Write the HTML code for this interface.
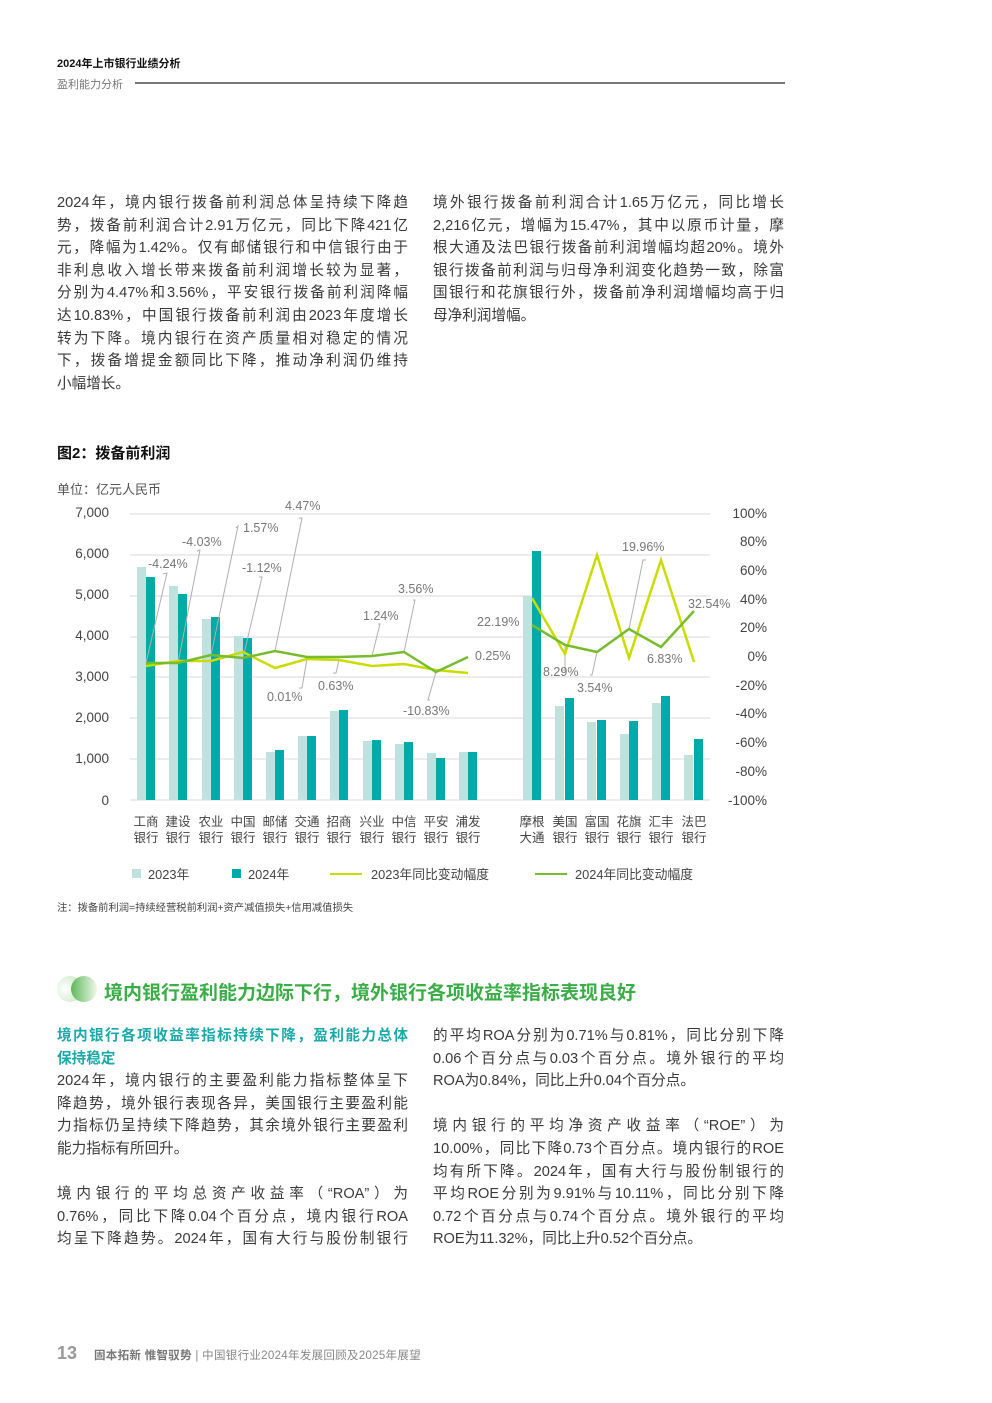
<!DOCTYPE html>
<html><head><meta charset="utf-8">
<style>
*{margin:0;padding:0}
body{width:992px;height:1403px;position:relative;background:#fff;font-family:"Liberation Sans","Noto Sans CJK SC",sans-serif;color:#3a3a3a;overflow:hidden}
.a{position:absolute;white-space:nowrap}
.col{position:absolute;width:351px;font-size:14.6px;}
.col div{height:22.6px;line-height:22.6px;text-align:justify;text-align-last:justify;white-space:nowrap}
.col div.l{text-align-last:left}
.col div.sp{height:22.6px}
</style></head><body>
<div class="a" style="left:57px;top:55px;font-size:11px;font-weight:bold;color:#111">2024年上市银行业绩分析</div>
<div class="a" style="left:57px;top:76px;font-size:11px;color:#777">盈利能力分析</div>
<div class="a" style="left:135px;top:82px;width:650px;height:1.5px;background:#777"></div>

<div class="col" style="left:57px;top:192px">
<div>2024年，境内银行拨备前利润总体呈持续下降趋</div>
<div>势，拨备前利润合计2.91万亿元，同比下降421亿</div>
<div>元，降幅为1.42%。仅有邮储银行和中信银行由于</div>
<div>非利息收入增长带来拨备前利润增长较为显著，</div>
<div>分别为4.47%和3.56%，平安银行拨备前利润降幅</div>
<div>达10.83%，中国银行拨备前利润由2023年度增长</div>
<div>转为下降。境内银行在资产质量相对稳定的情况</div>
<div>下，拨备增提金额同比下降，推动净利润仍维持</div>
<div class="l">小幅增长。</div>
</div>
<div class="col" style="left:433px;top:192px">
<div>境外银行拨备前利润合计1.65万亿元，同比增长</div>
<div>2,216亿元，增幅为15.47%，其中以原币计量，摩</div>
<div>根大通及法巴银行拨备前利润增幅均超20%。境外</div>
<div>银行拨备前利润与归母净利润变化趋势一致，除富</div>
<div>国银行和花旗银行外，拨备前净利润增幅均高于归</div>
<div class="l">母净利润增幅。</div>
</div>

<div class="a" style="left:57px;top:442px;font-size:15px;font-weight:bold;color:#111">图2：拨备前利润</div>
<div class="a" style="left:57px;top:479px;font-size:13px;color:#555">单位：亿元人民币</div>

<svg class="a" style="left:0;top:0" width="992" height="1403" font-family="Liberation Sans, Noto Sans CJK SC, sans-serif">
<g stroke="#d9d9d9" stroke-width="1">
<line x1="130" y1="514" x2="710" y2="514"/><line x1="130" y1="555" x2="710" y2="555"/>
<line x1="130" y1="596" x2="710" y2="596"/><line x1="130" y1="637" x2="710" y2="637"/>
<line x1="130" y1="677" x2="710" y2="677"/><line x1="130" y1="718" x2="710" y2="718"/>
<line x1="130" y1="759" x2="710" y2="759"/><line x1="130" y1="800" x2="710" y2="800"/>
</g>
<g font-size="13.5" fill="#444" text-anchor="end">
<text x="109" y="517">7,000</text><text x="109" y="558">6,000</text><text x="109" y="599">5,000</text>
<text x="109" y="640">4,000</text><text x="109" y="681">3,000</text><text x="109" y="722">2,000</text>
<text x="109" y="763">1,000</text><text x="109" y="805">0</text>
</g>
<g font-size="13.5" fill="#444" text-anchor="end">
<text x="767" y="518">100%</text><text x="767" y="546">80%</text><text x="767" y="575">60%</text>
<text x="767" y="604">40%</text><text x="767" y="632">20%</text><text x="767" y="661">0%</text>
<text x="767" y="690">-20%</text><text x="767" y="718">-40%</text><text x="767" y="747">-60%</text>
<text x="767" y="776">-80%</text><text x="767" y="805">-100%</text>
</g>
<g fill="#bfe2df">
<rect x="137" y="567" width="9" height="233"/><rect x="169" y="586" width="9" height="214"/>
<rect x="202" y="619" width="9" height="181"/><rect x="234" y="636" width="9" height="164"/>
<rect x="266" y="752" width="9" height="48"/><rect x="298" y="736" width="9" height="64"/>
<rect x="330" y="711" width="9" height="89"/><rect x="363" y="741" width="9" height="59"/>
<rect x="395" y="744" width="9" height="56"/><rect x="427" y="753" width="9" height="47"/>
<rect x="459" y="752" width="9" height="48"/>
<rect x="523" y="596" width="9" height="204"/><rect x="555" y="706" width="9" height="94"/>
<rect x="587" y="722" width="9" height="78"/><rect x="620" y="734" width="9" height="66"/>
<rect x="652" y="703" width="9" height="97"/><rect x="684" y="755" width="9" height="45"/>
</g>
<g fill="#00aaa7">
<rect x="146" y="577" width="9" height="223"/><rect x="178" y="594" width="9" height="206"/>
<rect x="211" y="617" width="9" height="183"/><rect x="243" y="638" width="9" height="162"/>
<rect x="275" y="750" width="9" height="50"/><rect x="307" y="736" width="9" height="64"/>
<rect x="339" y="710" width="9" height="90"/><rect x="372" y="740" width="9" height="60"/>
<rect x="404" y="742" width="9" height="58"/><rect x="436" y="758" width="9" height="42"/>
<rect x="468" y="752" width="9" height="48"/>
<rect x="532" y="551" width="9" height="249"/><rect x="565" y="698" width="9" height="102"/>
<rect x="597" y="720" width="9" height="80"/><rect x="629" y="721" width="9" height="79"/>
<rect x="661" y="696" width="9" height="104"/><rect x="694" y="739" width="9" height="61"/>
</g>
<g stroke="#b0b0b0" stroke-width="1" fill="none">
<polyline points="163,574 167,573 146,663"/><polyline points="197,551 200,550 178,663"/>
<polyline points="236,528 238,526 211,655"/><polyline points="259,577 262,577 243,658"/>
<polyline points="299,518 302,518 275,651"/><polyline points="299,688 302,688 307,659"/>
<polyline points="333,673 336,673 339,660"/><polyline points="378,624 380,624 372,656"/>
<polyline points="413,600 415,600 404,652"/><polyline points="430,700 428,700 436,672"/>
<polyline points="562,670 565,670 565,645"/><polyline points="590,675 592,675 597,652"/>
<polyline points="646,560 643,560 629,629"/>
</g>
<polyline fill="none" stroke="#c9dc00" stroke-width="2.5" points="146,666 178,661 211,661 243,652 275,668 307,659 339,660 372,666 404,664 436,670 468,673"/>
<polyline fill="none" stroke="#77bb2f" stroke-width="2.5" points="146,663 178,663 211,655 243,658 275,651 307,657 339,657 372,656 404,652 436,672 468,657"/>
<polyline fill="none" stroke="#c9dc00" stroke-width="2.5" points="532,598 565,654 597,555 629,658 661,560 694,662"/>
<polyline fill="none" stroke="#77bb2f" stroke-width="2.5" points="532,625 565,645 597,652 629,629 661,647 694,611"/>
<g font-size="12.5" fill="#777">
<text x="148" y="568">-4.24%</text><text x="182" y="546">-4.03%</text><text x="243" y="532">1.57%</text>
<text x="242" y="572">-1.12%</text><text x="285" y="510">4.47%</text><text x="267" y="701">0.01%</text>
<text x="318" y="690">0.63%</text><text x="363" y="620">1.24%</text><text x="398" y="593">3.56%</text>
<text x="403" y="715">-10.83%</text><text x="475" y="660">0.25%</text><text x="477" y="626">22.19%</text>
<text x="543" y="676">8.29%</text><text x="577" y="692">3.54%</text><text x="622" y="551">19.96%</text>
<text x="647" y="663">6.83%</text><text x="688" y="608">32.54%</text>
</g>
<g font-size="12.5" fill="#444" text-anchor="middle">
<text x="146" y="826">工商</text><text x="146" y="842">银行</text>
<text x="178" y="826">建设</text><text x="178" y="842">银行</text>
<text x="211" y="826">农业</text><text x="211" y="842">银行</text>
<text x="243" y="826">中国</text><text x="243" y="842">银行</text>
<text x="275" y="826">邮储</text><text x="275" y="842">银行</text>
<text x="307" y="826">交通</text><text x="307" y="842">银行</text>
<text x="339" y="826">招商</text><text x="339" y="842">银行</text>
<text x="372" y="826">兴业</text><text x="372" y="842">银行</text>
<text x="404" y="826">中信</text><text x="404" y="842">银行</text>
<text x="436" y="826">平安</text><text x="436" y="842">银行</text>
<text x="468" y="826">浦发</text><text x="468" y="842">银行</text>
<text x="532" y="826">摩根</text><text x="532" y="842">大通</text>
<text x="565" y="826">美国</text><text x="565" y="842">银行</text>
<text x="597" y="826">富国</text><text x="597" y="842">银行</text>
<text x="629" y="826">花旗</text><text x="629" y="842">银行</text>
<text x="661" y="826">汇丰</text><text x="661" y="842">银行</text>
<text x="694" y="826">法巴</text><text x="694" y="842">银行</text>
</g>
<rect x="132" y="869" width="9" height="9" fill="#bfe2df"/>
<rect x="232" y="869" width="9" height="9" fill="#00aaa7"/>
<line x1="330" y1="874" x2="362" y2="874" stroke="#c9dc00" stroke-width="2"/>
<line x1="535" y1="874" x2="567" y2="874" stroke="#77bb2f" stroke-width="2"/>
<g font-size="12.8" fill="#444">
<text x="148" y="879">2023年</text><text x="248" y="879">2024年</text>
<text x="371" y="879">2023年同比变动幅度</text><text x="575" y="879">2024年同比变动幅度</text>
</g>
<text x="57" y="911" font-size="10.3" fill="#444">注：拨备前利润=持续经营税前利润+资产减值损失+信用减值损失</text>
<defs>
<radialGradient id="c1" cx="0.3" cy="0.5" r="0.7"><stop offset="0" stop-color="#fff"/><stop offset="1" stop-color="#cfe9c9"/></radialGradient>
<linearGradient id="c2" x1="0" y1="0" x2="1" y2="0"><stop offset="0" stop-color="#5fb85a"/><stop offset="1" stop-color="#eef7ea"/></linearGradient>
</defs>
<circle cx="70" cy="989" r="13" fill="url(#c1)"/>
<circle cx="84" cy="989" r="13" fill="url(#c2)"/>
</svg>

<div class="a" style="left:104px;top:978px;font-size:19px;font-weight:bold;color:#3aad47">境内银行盈利能力边际下行，境外银行各项收益率指标表现良好</div>

<div class="col" style="left:57px;top:1025px">
<div style="color:#1aa8a8;font-weight:bold">境内银行各项收益率指标持续下降，盈利能力总体</div>
<div class="l" style="color:#1aa8a8;font-weight:bold">保持稳定</div>
<div>2024年，境内银行的主要盈利能力指标整体呈下</div>
<div>降趋势，境外银行表现各异，美国银行主要盈利能</div>
<div>力指标仍呈持续下降趋势，其余境外银行主要盈利</div>
<div class="l">能力指标有所回升。</div>
<div class="sp"></div>
<div>境内银行的平均总资产收益率（“ROA”）为</div>
<div>0.76%，同比下降0.04个百分点，境内银行ROA</div>
<div>均呈下降趋势。2024年，国有大行与股份制银行</div>
</div>
<div class="col" style="left:433px;top:1025px">
<div>的平均ROA分别为0.71%与0.81%，同比分别下降</div>
<div>0.06个百分点与0.03个百分点。境外银行的平均</div>
<div class="l">ROA为0.84%，同比上升0.04个百分点。</div>
<div class="sp"></div>
<div>境内银行的平均净资产收益率（“ROE”）为</div>
<div>10.00%，同比下降0.73个百分点。境内银行的ROE</div>
<div>均有所下降。2024年，国有大行与股份制银行的</div>
<div>平均ROE分别为9.91%与10.11%，同比分别下降</div>
<div>0.72个百分点与0.74个百分点。境外银行的平均</div>
<div class="l">ROE为11.32%，同比上升0.52个百分点。</div>
</div>

<div class="a" style="left:57px;top:1343px;font-size:18px;font-weight:bold;color:#999">13</div>
<div class="a" style="left:94px;top:1347px;font-size:11.5px;color:#888;letter-spacing:0.3px"><b style="color:#777">固本拓新 惟智驭势</b> | 中国银行业2024年发展回顾及2025年展望</div>
</body></html>
